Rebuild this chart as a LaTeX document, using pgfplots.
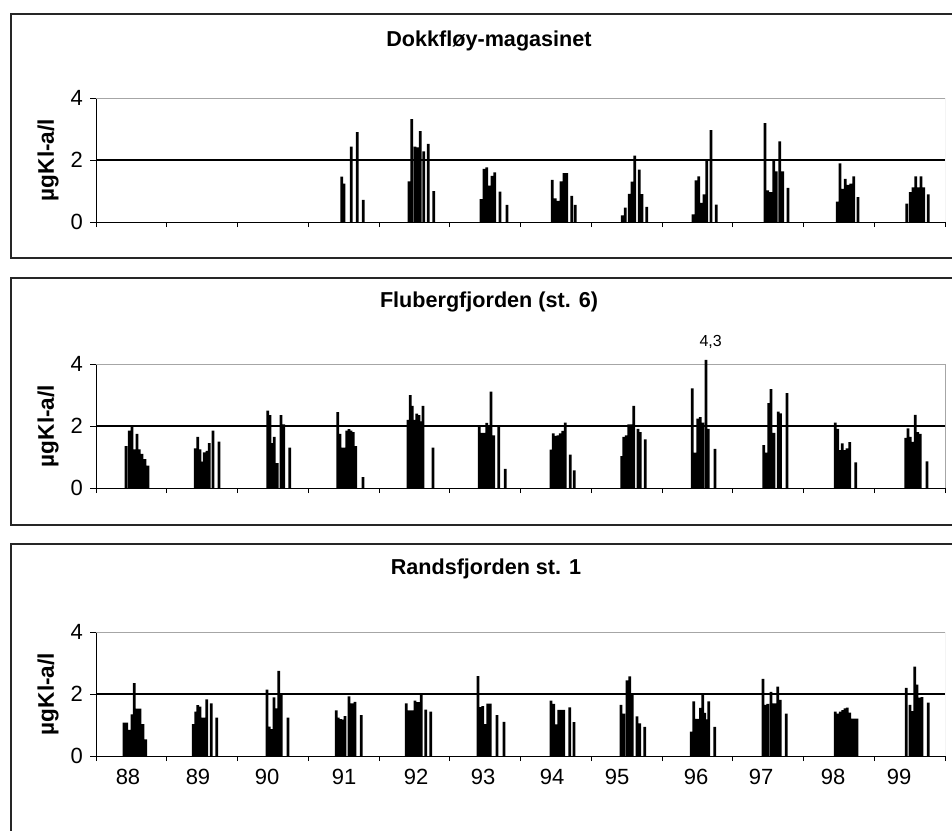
\documentclass[border=0pt]{standalone}
\usepackage{fontspec}
\setmainfont{Liberation Sans}
\usepackage{pgfplots}
\usepackage{pgfplotstable}
\pgfplotsset{compat=1.18}

% x = position in the year band (12 bands of 70.75 units, 88 ... 99), y = ug Kl-a/l
\pgfplotstableread{
x y
245.7 1.46
248.0 1.24
255.3 2.43
261.3 2.90
267.3 0.71
313.0 1.31
315.7 3.32
319.0 2.43
321.7 2.41
324.3 2.93
327.7 2.28
332.3 2.52
337.7 1.00
385.0 0.74
388.0 1.71
390.7 1.76
393.7 1.17
396.0 1.49
398.7 1.60
404.0 0.98
411.0 0.55
456.3 1.36
459.3 0.76
462.0 0.68
465.0 1.31
468.0 1.58
470.7 1.58
475.7 0.84
479.3 0.55
526.3 0.21
529.3 0.46
533.3 0.91
536.0 1.30
538.7 2.14
543.3 1.69
546.0 0.90
550.7 0.49
597.0 0.25
600.0 1.34
602.7 1.47
605.3 0.62
608.0 0.89
610.7 1.96
615.0 2.96
620.3 0.56
669.0 3.19
671.8 1.02
674.7 0.96
677.7 1.96
680.2 1.63
683.8 2.60
686.7 1.63
692.0 1.10
741.3 0.66
744.0 1.89
746.7 1.07
749.3 1.39
752.0 1.20
754.7 1.24
757.7 1.47
762.0 0.80
810.7 0.59
814.3 0.96
817.0 1.12
819.7 1.47
822.3 1.12
825.0 1.47
827.7 1.12
832.3 0.89
}\dokk

\pgfplotstableread{
x y
30.0 1.35
33.3 1.85
36.0 2.00
38.3 1.25
41.0 1.75
43.3 1.25
46.0 1.10
49.0 0.93
52.0 0.72
99.3 1.28
101.7 1.65
104.0 1.25
106.0 0.85
108.3 1.15
111.0 1.20
113.3 1.45
117.0 1.85
123.0 1.50
171.7 2.50
174.0 2.35
176.3 1.45
178.3 1.65
181.3 0.80
185.0 2.35
187.7 2.05
193.7 1.30
241.7 2.45
244.0 1.75
246.3 1.30
248.3 1.30
250.7 1.85
253.0 1.90
255.0 1.85
257.3 1.80
259.7 1.35
267.0 0.35
312.0 2.20
314.3 3.00
316.3 2.65
318.3 2.20
320.7 2.40
323.0 2.35
325.0 2.15
327.0 2.65
337.0 1.30
383.3 2.02
386.0 1.78
388.3 1.78
390.7 2.10
393.0 2.00
395.0 3.11
397.7 1.70
402.7 2.00
409.3 0.62
455.0 1.24
457.3 1.76
459.3 1.68
462.0 1.70
464.3 1.76
466.7 1.84
469.3 2.11
474.3 1.08
478.3 0.57
525.7 1.03
527.7 1.65
530.3 1.70
532.7 2.05
535.0 2.05
537.7 2.65
542.0 1.91
544.3 1.80
549.3 1.57
596.3 3.21
599.3 1.14
601.7 2.24
604.3 2.29
606.7 2.11
610.0 4.13
612.3 1.91
619.0 1.26
667.7 1.38
670.3 1.14
672.7 2.74
675.0 3.19
678.0 1.78
682.2 2.46
684.5 2.41
691.0 3.06
739.3 2.11
741.7 1.91
744.0 1.22
746.3 1.44
748.7 1.22
751.0 1.28
753.7 1.48
759.7 0.83
809.7 1.62
812.0 1.92
814.3 1.65
816.7 1.49
819.3 2.36
821.7 1.80
824.3 1.75
831.0 0.86
}\flub

\pgfplotstableread{
x y
28.0 1.08
30.7 1.08
33.7 0.84
36.0 1.34
38.3 2.35
41.0 1.53
44.0 1.53
47.0 1.03
49.7 0.54
97.3 1.03
99.7 1.43
101.7 1.64
104.0 1.59
106.3 1.24
108.3 1.24
110.7 1.83
115.3 1.70
120.7 1.24
171.0 2.14
173.3 0.95
175.7 0.87
178.0 1.89
180.3 1.54
182.7 2.75
185.3 2.00
192.0 1.24
240.3 1.47
242.3 1.24
244.7 1.19
247.0 1.17
249.0 1.29
253.0 1.92
256.0 1.70
259.0 1.75
265.3 1.32
310.3 1.70
312.3 1.47
314.7 1.47
317.0 1.47
319.0 1.79
321.3 1.74
323.3 1.74
325.3 2.03
329.7 1.50
334.7 1.43
382.0 2.58
384.3 1.58
386.7 1.61
389.3 1.03
391.7 1.69
394.3 1.69
401.0 1.32
408.0 1.10
455.0 1.79
457.7 1.68
460.3 1.02
462.7 1.49
465.0 1.49
467.7 1.49
473.7 1.57
478.0 1.09
525.0 1.65
527.7 1.37
531.0 2.44
533.7 2.57
536.3 1.97
541.0 1.28
543.7 1.05
548.7 0.94
595.2 0.79
597.7 1.76
600.2 1.20
602.3 1.20
604.5 1.55
606.7 1.99
608.8 1.39
610.8 1.18
612.8 1.76
618.7 0.94
667.0 2.49
669.5 1.65
671.7 1.68
675.0 2.07
677.3 1.70
679.3 1.70
681.7 2.24
684.3 1.81
690.3 1.37
739.3 1.43
741.7 1.37
744.3 1.43
746.7 1.48
749.0 1.54
751.3 1.56
753.7 1.40
756.0 1.21
758.3 1.21
761.0 1.21
810.3 2.20
814.0 1.65
816.3 1.45
818.7 2.88
821.0 2.30
823.3 1.88
826.0 1.90
832.3 1.72
}\rands

\pgfplotsset{
  panel/.style={
    scale only axis, width=424.5pt, height=62pt,
    anchor=south west,
    xmin=0, xmax=849, ymin=0, ymax=4,
    axis x line*=bottom, axis y line*=left,
    axis line style={black, line width=0.5pt},
    tick align=outside,
    ytick={0,2,4},
    major tick length=3pt, minor tick length=2.5pt,
    xtick={32,102,171,248,320,387,456,521,600,665,737,803},
    minor xtick={0,70.75,141.5,212.25,283,353.75,424.5,495.25,566,636.75,707.5,778.25,849},
    major x tick style={draw=none},
    every tick/.style={black, line width=0.5pt},
    /pgf/number format/assume math mode=true,
    yticklabel style={font=\fontsize{11}{13}\selectfont, anchor=east},
    xticklabel style={font=\fontsize{11}{13}\selectfont, anchor=north},
    ylabel={µgKl-a/l},
    ylabel style={font=\fontsize{11.3}{13}\selectfont\bfseries,
      at={(axis description cs:-0.0565,0.5)}, anchor=center},
  },
  bars/.style={ybar, bar width=2.8, fill=black, draw=none},
}

\newcommand{\frameborders}{%
  \draw[gray!70, line width=0.5pt] (axis cs:0,4) -- (axis cs:849,4) -- (axis cs:849,0);
  \draw[black, line width=0.6pt] (axis cs:0,2) -- (axis cs:849,2);
}

\begin{document}
\begin{tikzpicture}
\def\ttl{\fontsize{10.8}{13}\selectfont\bfseries}
% outer frames of the three charts
\draw[black!85, line width=0.6pt] (5.5pt,-7pt) rectangle (500pt,-129pt);
\draw[black!85, line width=0.6pt] (5.5pt,-139pt) rectangle (500pt,-262.5pt);
\draw[black!85, line width=0.6pt] (5.5pt,-272pt) rectangle (500pt,-440pt);

\node[anchor=base, font=\ttl] at (244.5pt,-23.3pt) {Dokkfløy-magasinet};
\node[anchor=base, font=\ttl] at (244.5pt,-153.8pt) {Flubergfjorden (st. 6)};
\node[anchor=base, font=\ttl] at (243pt,-287pt) {Randsfjorden st. 1};

\begin{axis}[panel, at={(48pt,-111pt)}, xticklabels={}]
\frameborders
\addplot[bars] table[x=x,y=y] {\dokk};
\end{axis}

\begin{axis}[panel, at={(48pt,-244pt)}, xticklabels={}, clip=false]
\frameborders
\addplot[bars] table[x=x,y=y] {\flub};
\node[anchor=base, font=\fontsize{8}{10}\selectfont] at (axis cs:614.7,4.58) {4,3};
\end{axis}

\begin{axis}[panel, at={(48pt,-378pt)},
  xticklabels={88,89,90,91,92,93,94,95,96,97,98,99}]
\frameborders
\addplot[bars] table[x=x,y=y] {\rands};
\end{axis}

\pgfresetboundingbox
\useasboundingbox (0,0) rectangle (476pt,-415pt);
\end{tikzpicture}
\end{document}
